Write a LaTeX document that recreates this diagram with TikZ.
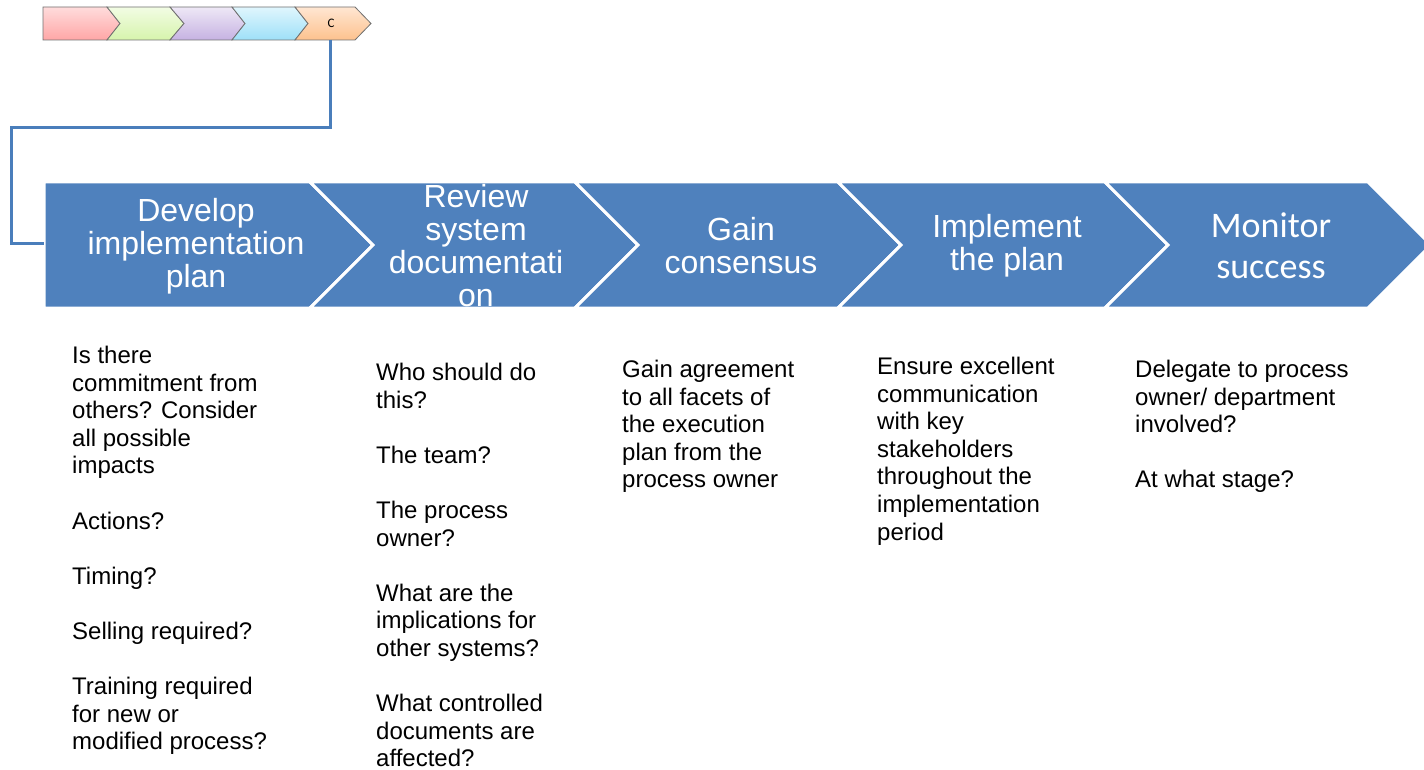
\documentclass[tikz,border=0pt]{standalone}
\usepackage{fontspec}
\setmainfont{Liberation Sans}
\newfontfamily\calib{Carlito}
\definecolor{chev}{HTML}{4F81BD}
\definecolor{conncol}{HTML}{4A7EBB}
\definecolor{pinkT}{HTML}{FFDCDC}\definecolor{pinkB}{HTML}{FFA6A6}
\definecolor{grnT}{HTML}{F2FCE4}\definecolor{grnB}{HTML}{D6F4AC}
\definecolor{purT}{HTML}{EEE8F6}\definecolor{purB}{HTML}{C6B2E2}
\definecolor{bluT}{HTML}{E0F6FD}\definecolor{bluB}{HTML}{9EE0F8}
\definecolor{oraT}{HTML}{FFE6D2}\definecolor{oraB}{HTML}{FDC28E}
\definecolor{segline}{HTML}{707070}
\tikzset{
  chevshape/.style={fill=chev, draw=white, line width=3pt, line join=miter},
  head/.style={text=white, align=center, inner sep=0pt, font=\fontsize{32}{33}\selectfont},
  body/.style={text=black, align=left, inner sep=0pt, anchor=north west, font=\fontsize{24}{27.6}\selectfont},
  seg/.style={draw=segline, line width=0.8pt},
  conn/.style={draw=conncol, line width=3pt},
}
\begin{document}
\begin{tikzpicture}[x=1pt,y=-1pt]
\useasboundingbox (0,0) rectangle (1424,770);
% small progress bar
\shade[seg, top color=pinkT, bottom color=pinkB] (43,7) -- (107,7) -- (120,23.5) -- (107,40) -- (43,40) -- cycle;
\shade[seg, top color=grnT, bottom color=grnB] (107,7) -- (170,7) -- (184,23.5) -- (170,40) -- (107,40) -- (120,23.5) -- cycle;
\shade[seg, top color=purT, bottom color=purB] (170,7) -- (232,7) -- (245,23.5) -- (232,40) -- (170,40) -- (184,23.5) -- cycle;
\shade[seg, top color=bluT, bottom color=bluB] (232,7) -- (295,7) -- (308,23.5) -- (295,40) -- (232,40) -- (245,23.5) -- cycle;
\shade[seg, top color=oraT, bottom color=oraB] (295,7) -- (355,7) -- (371,23.5) -- (355,40) -- (295,40) -- (308,23.5) -- cycle;
\node[inner sep=0pt, font=\calib\fontsize{13}{14}\selectfont] (c) at (331,23) {C};
\coordinate (cbot) at (330,40);
% chevrons
\path[chevshape] (44,182) -- (310,182) -- (373,245) -- (310,308) -- (44,308) -- cycle;
\path[chevshape] (310,182) -- (575,182) -- (638,245) -- (575,308) -- (310,308) -- (373,245) -- cycle;
\path[chevshape] (575,182) -- (838,182) -- (901,245) -- (838,308) -- (575,308) -- (638,245) -- cycle;
\path[chevshape] (838,182) -- (1105,182) -- (1168,245) -- (1105,308) -- (838,308) -- (901,245) -- cycle;
\path[chevshape] (1105,182) -- (1368,182) -- (1431,245) -- (1368,308) -- (1105,308) -- (1168,245) -- cycle;
\coordinate (devin) at (44,243);
% connector
\draw[conn] (cbot) |- (11,128) |- (devin);
% headers
\node[head] (h1) at (196,246) {Develop\\implementation\\plan};
\node[head] (h2) at (476,246) {Review\\system\\documentati\\on};
\node[head] (h3) at (741,246) {Gain\\consensus};
\node[head] (h4) at (1007,246) {Implement\\the plan};
\node[head, font=\calib\fontsize{36}{41}\selectfont] (h5) at (1271,246) {Monitor\\success};
% body texts
\node[body] (t1) at (72,346) {Is there\\commitment from\\others? Consider\\all possible\\impacts\\[27.6pt]Actions?\\[27.6pt]Timing?\\[27.6pt]Selling required?\\[27.6pt]Training required\\for new or\\modified process?};
\node[body] (t2) at (376,363) {Who should do\\this?\\[27.6pt]The team?\\[27.6pt]The process\\owner?\\[27.6pt]What are the\\implications for\\other systems?\\[27.6pt]What controlled\\documents are\\affected?};
\node[body] (t3) at (622,360) {Gain agreement\\to all facets of\\the execution\\plan from the\\process owner};
\node[body] (t4) at (877,357) {Ensure excellent\\communication\\with key\\stakeholders\\throughout the\\implementation\\period};
\node[body] (t5) at (1135,360) {Delegate to process\\owner/ department\\involved?\\[27.6pt]At what stage?};
\end{tikzpicture}
\end{document}
